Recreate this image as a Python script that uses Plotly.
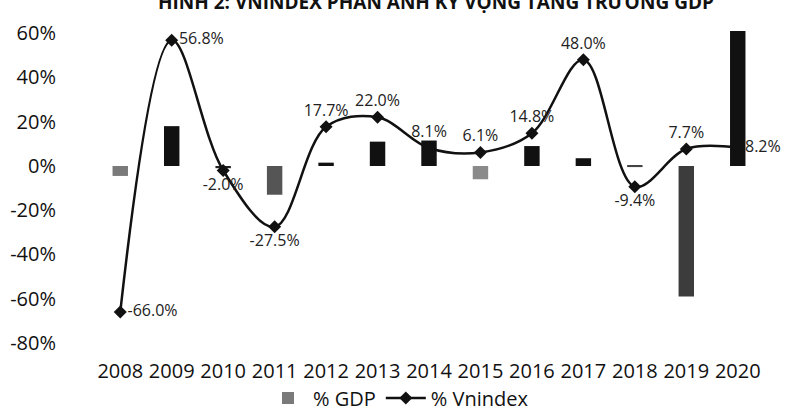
import plotly.graph_objects as go

years = ["2008", "2009", "2010", "2011", "2012", "2013", "2014",
         "2015", "2016", "2017", "2018", "2019", "2020"]
gdp = [-4.5, 18.0, -1.0, -13.0, 1.5, 11.0, 11.5, -6.0, 9.0, 3.5, -0.5, -59.0, 61.0]
vnindex = [-66.0, 56.8, -2.0, -27.5, 17.7, 22.0, 8.1, 6.1, 14.8, 48.0, -9.4, 7.7, 8.2]
label_pos = ["middle right", "middle right", "bottom center", "bottom center",
             "top center", "top center", "top center", "top center", "top center",
             "top center", "bottom center", "top center", "middle right"]
bar_colors = ["#7a7a7a", "#111111", "#222222", "#555555", "#111111", "#111111",
              "#111111", "#8a8a8a", "#111111", "#111111", "#444444", "#3c3c3c", "#111111"]

FONT = "Open Sans"

fig = go.Figure()
fig.add_trace(go.Scatter(
    x=years, y=vnindex, name="% Vnindex", mode="lines+markers+text",
    line=dict(color="#111111", width=2.5, shape="spline", smoothing=1.0),
    marker=dict(symbol="diamond", size=10, color="#111111"),
    text=[f"{v:.1f}%" for v in vnindex], textposition=label_pos,
    textfont=dict(family=FONT, size=16, color="#222222"),
    cliponaxis=False, legendrank=2,
))
fig.add_trace(go.Bar(
    x=years, y=gdp, name="% GDP", width=0.3,
    marker=dict(color=bar_colors, line=dict(width=0)),
    legendrank=1,
))

fig.add_annotation(
    text="<b>HÌNH 2: VNINDEX PHẢN ÁNH KỲ VỌNG TĂNG TRƯỞNG GDP</b>",
    xref="paper", yref="paper", x=0.51, y=1.045, xanchor="center", yanchor="bottom",
    showarrow=False, font=dict(family=FONT, size=19, color="#111111"),
)

fig.update_layout(
    width=797, height=416,
    margin=dict(l=79, r=18, t=31, b=73, autoexpand=False),
    paper_bgcolor="white", plot_bgcolor="white",
    font=dict(family=FONT, size=20, color="#111111"),
    showlegend=True,
    legend=dict(orientation="h", xref="container", yref="container",
                x=0.5, xanchor="center", y=0.09, yanchor="top",
                font=dict(family=FONT, size=20), itemwidth=40),
    bargap=0.7,
)
fig.update_xaxes(type="category", showgrid=False, showline=False, ticks="",
                 tickfont=dict(family=FONT, size=20), ticklabelstandoff=14)
fig.update_yaxes(range=[-80, 61], tickvals=[-80, -60, -40, -20, 0, 20, 40, 60],
                 ticktext=["-80%", "-60%", "-40%", "-20%", "0%", "20%", "40%", "60%"],
                 showgrid=False, zeroline=False, showline=False, ticks="",
                 tickfont=dict(family=FONT, size=20), ticklabelstandoff=22)

fig.write_html("out.html")
